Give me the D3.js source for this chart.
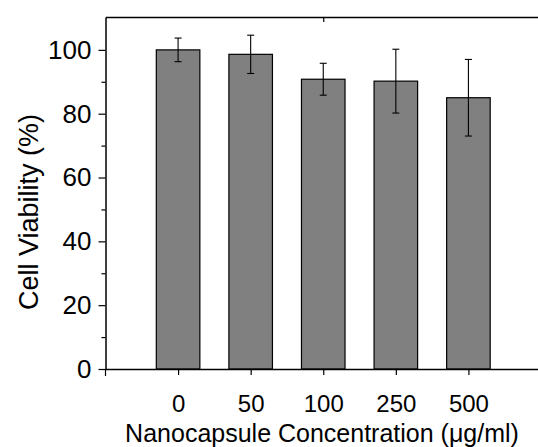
<!DOCTYPE html>
<html>
<head>
<meta charset="utf-8">
<script src="https://cdn.jsdelivr.net/npm/d3@7"></script>
<style>
  body { margin: 0; background: #fff; }
  text { font-family: "Liberation Sans", Arial, sans-serif; fill: #000; }
</style>
</head>
<body>
<div id="chart"></div>
<script>
// data
const concentrations = ["0", "50", "100", "250", "500"];
const viability = [100, 98.6, 90.8, 90.2, 85.0];
const errors = [3.7, 6.0, 5.0, 10.0, 12.0];
const yTicks = [0, 20, 40, 60, 80, 100];

const width = 538, height = 447;
const margin = { top: 17, right: -3, bottom: 78, left: 105.5 };

const svg = d3.select("#chart").append("svg")
  .attr("width", width)
  .attr("height", height);

const x = d3.scaleLinear()
  .domain([0, concentrations.length + 1])
  .range([margin.left, width - margin.right]);

const y = d3.scaleLinear()
  .domain([0, 110.3])
  .range([height - margin.bottom, margin.top]);

const step = x(1) - x(0);
const barW = step * 0.6;

const data = concentrations.map((c, i) => ({ c, i: i + 1, v: viability[i], e: errors[i] }));

// bars
svg.append("g").selectAll("rect")
  .data(data)
  .join("rect")
  .attr("x", d => x(d.i) - barW / 2)
  .attr("y", d => y(d.v))
  .attr("width", barW)
  .attr("height", d => y(0) - y(d.v))
  .attr("fill", "#808080")
  .attr("stroke", "#000")
  .attr("stroke-width", 1.2);

// error bars
const eb = svg.append("g").attr("stroke", "#000").attr("stroke-width", 1.1);
eb.selectAll("line.v")
  .data(data)
  .join("line")
  .attr("class", "v")
  .attr("x1", d => x(d.i)).attr("x2", d => x(d.i))
  .attr("y1", d => y(d.v + d.e)).attr("y2", d => y(d.v - d.e));
eb.selectAll("line.top")
  .data(data)
  .join("line")
  .attr("class", "top")
  .attr("x1", d => x(d.i) - 3.5).attr("x2", d => x(d.i) + 3.5)
  .attr("y1", d => y(d.v + d.e)).attr("y2", d => y(d.v + d.e));
eb.selectAll("line.bot")
  .data(data)
  .join("line")
  .attr("class", "bot")
  .attr("x1", d => x(d.i) - 3.5).attr("x2", d => x(d.i) + 3.5)
  .attr("y1", d => y(d.v - d.e)).attr("y2", d => y(d.v - d.e));

// left axis (major + minor)
svg.append("g")
  .attr("class", "yaxis")
  .attr("transform", `translate(${margin.left},0)`)
  .call(d3.axisLeft(y).tickValues(yTicks).tickSize(7).tickPadding(7).tickSizeOuter(0));
svg.append("g")
  .attr("transform", `translate(${margin.left},0)`)
  .call(d3.axisLeft(y).tickValues(d3.range(10, 110, 20)).tickSize(4).tickFormat("").tickSizeOuter(0))
  .call(g => g.select(".domain").remove());

// bottom axis
svg.append("g")
  .attr("class", "xaxis")
  .attr("transform", `translate(0,${y(0)})`)
  .call(d3.axisBottom(x).tickValues(data.map(d => d.i))
    .tickFormat(i => concentrations[i - 1]).tickSize(6).tickPadding(20).tickSizeOuter(0));

// top axis
svg.append("g")
  .attr("transform", `translate(0,${margin.top})`)
  .call(d3.axisTop(x).tickValues([3]).tickSize(-5).tickFormat("").tickSizeOuter(0));

svg.selectAll(".domain").attr("stroke-width", 1.5);
svg.selectAll(".tick line").attr("stroke-width", 1.2);
svg.selectAll(".tick text")
  .style("font-family", '"Liberation Sans", Arial, sans-serif');
svg.selectAll(".yaxis .tick text").attr("font-size", 26);
svg.selectAll(".xaxis .tick text").attr("font-size", 24);

// left axis line extends slightly below the baseline
svg.append("line")
  .attr("x1", margin.left).attr("x2", margin.left)
  .attr("y1", y(0)).attr("y2", y(0) + 7)
  .attr("stroke", "#000").attr("stroke-width", 1.2);

// titles
svg.append("text")
  .attr("x", 322)
  .attr("y", 441.5)
  .attr("text-anchor", "middle")
  .attr("font-size", 25)
  .text("Nanocapsule Concentration (μg/ml)");

svg.append("text")
  .attr("transform", "translate(38,212) rotate(-90)")
  .attr("text-anchor", "middle")
  .attr("font-size", 27)
  .text("Cell Viability (%)");
</script>
</body>
</html>
